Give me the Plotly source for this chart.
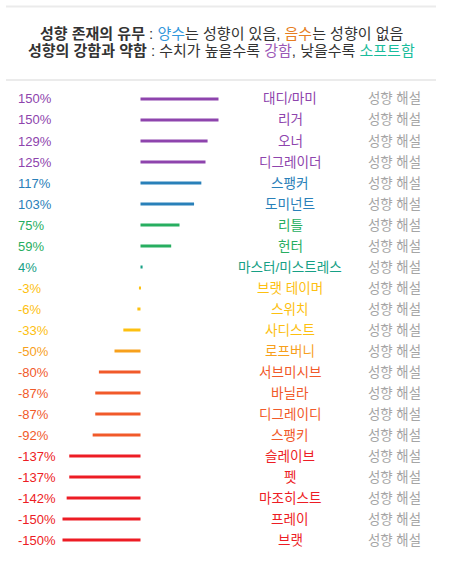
import plotly.graph_objects as go

W, H = 449, 563

# data
names = ["대디/마미", "리거", "오너", "디그레이더", "스팽커", "도미넌트", "리틀", "헌터",
         "마스터/미스트레스", "브랫 테이머", "스위치", "사디스트", "로프버니", "서브미시브",
         "바닐라", "디그레이디", "스팽키", "슬레이브", "펫", "마조히스트", "프레이", "브랫"]
values = [150, 150, 129, 125, 117, 103, 75, 59, 4, -3, -6, -33, -50, -80,
          -87, -87, -92, -137, -137, -142, -150, -150]
link_text = "성향 해설"

purple, blue, green, teal = "#8e44ad", "#2980b9", "#27ae60", "#16a085"
yellow, orange, redorange, red = "#fdc010", "#f7a01c", "#f15a2a", "#ed1c24"
colors = [purple]*4 + [blue]*2 + [green]*2 + [teal] + [yellow]*3 + [orange] + [redorange]*4 + [red]*5

FONT = "Liberation Sans, Arial, Noto Sans CJK KR, sans-serif"

# x scale: zero at ~140.5px, 0.52 px per percent
zero_px, px_per = 140.5, 0.52
xr = [-zero_px/px_per, (W-zero_px)/px_per]

fig = go.Figure(go.Bar(
    y=names, x=values, orientation="h",
    marker=dict(color=colors, line=dict(width=0)),
    width=3/21, hoverinfo="skip",
))

ann = []
for n, v, c in zip(names, values, colors):
    ann.append(dict(x=16/W, xref="paper", y=n, yref="y", text="%d%%" % v, showarrow=False,
                    xanchor="left", font=dict(size=13, color=c, family=FONT)))
    ann.append(dict(x=290/W, xref="paper", y=n, yref="y", text=n, showarrow=False,
                    xanchor="center", font=dict(size=13.6, color=c, family=FONT)))
    ann.append(dict(x=366/W, xref="paper", y=n, yref="y", text=link_text, showarrow=False,
                    xanchor="left", font=dict(size=13.4, color="#a5a5a5", family=FONT)))

line1 = ("<b>성향 존재의 유무</b> : <span style='color:#3498db'>양수</span>는 성향이 있음, "
         "<span style='color:#e67e22'>음수</span>는 성향이 없음")
line2 = ("<b>성향의 강함과 약함</b> : 수치가 높을수록 <span style='color:#9b59b6'>강함</span>, "
         "낮을수록 <span style='color:#1abc9c'>소프트함</span>")
ann.append(dict(x=221/W, xref="paper", y=1-33/H, yref="paper", text=line1, showarrow=False,
                xanchor="center", yanchor="middle", font=dict(size=15, color="#333333", family=FONT)))
ann.append(dict(x=221/W, xref="paper", y=1-50/H, yref="paper", text=line2, showarrow=False,
                xanchor="center", yanchor="middle", font=dict(size=15, color="#333333", family=FONT)))

shapes = []
for ypx in (6.5, 80):
    shapes.append(dict(type="line", xref="paper", yref="paper", x0=6/W, x1=436/W,
                       y0=1-ypx/H, y1=1-ypx/H, line=dict(color="#ebebeb", width=2)))

fig.update_layout(
    width=W, height=H,
    margin=dict(l=0, r=0, t=0, b=0),
    paper_bgcolor="white", plot_bgcolor="white",
    showlegend=False,
    xaxis=dict(range=xr, domain=[0, 1], visible=False, fixedrange=True),
    yaxis=dict(autorange="reversed", domain=[12.5/H, 1-88.5/H], visible=False, fixedrange=True),
    annotations=ann, shapes=shapes,
)
# page body has an 8px default margin, drop it so the chart sits at 0,0
fig.write_html("out.html", config={"displayModeBar": False},
               post_script="document.body.style.margin='0';")
